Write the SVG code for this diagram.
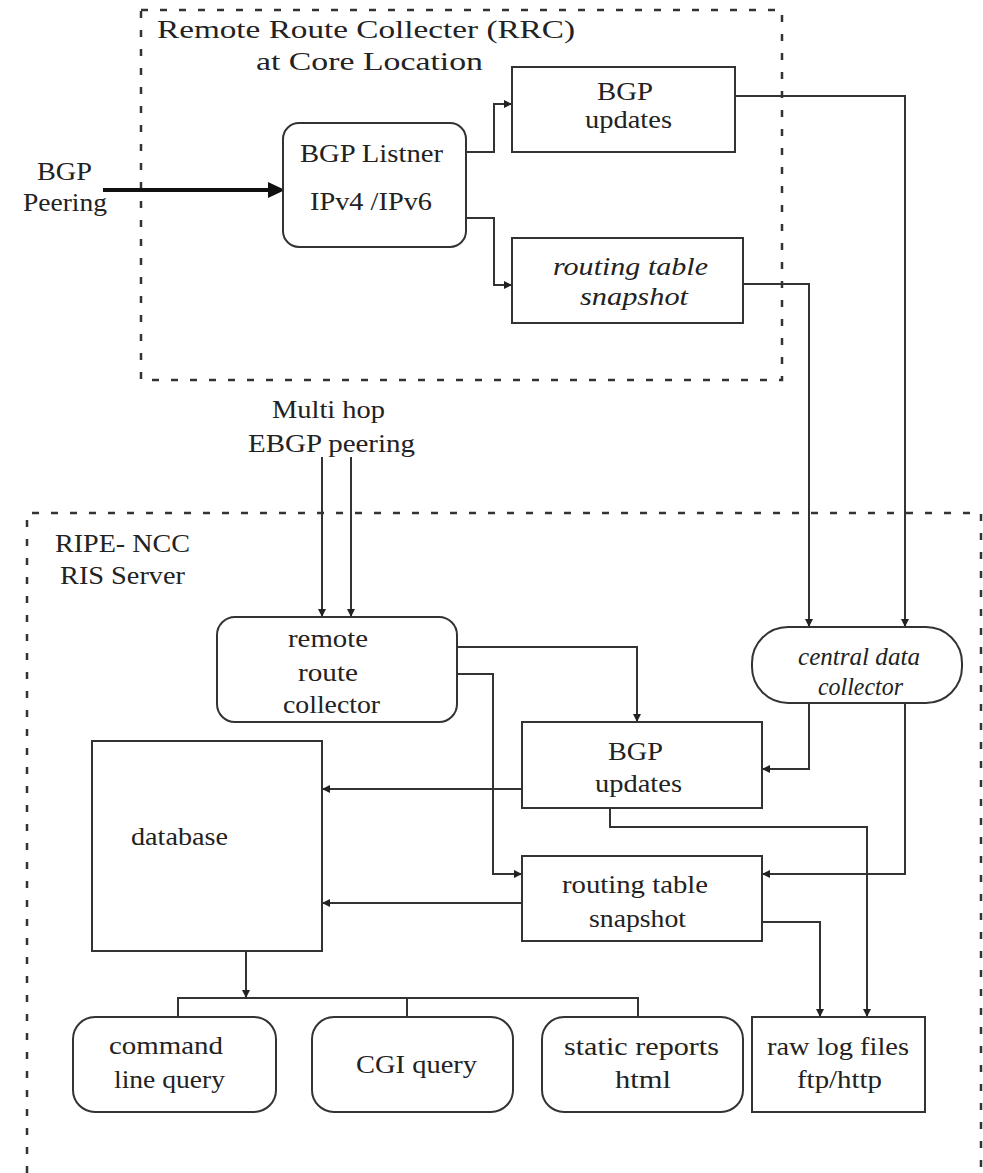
<svg xmlns="http://www.w3.org/2000/svg" width="983" height="1173" viewBox="0 0 983 1173">
<style>
.bg{fill:#fff}
.box{fill:#fff;stroke:#333;stroke-width:2}
.dash{fill:none;stroke:#333;stroke-width:2.5;stroke-dasharray:7 12}
.ln{fill:none;stroke:#333;stroke-width:2}
.ar{fill:none;stroke:#333;stroke-width:2;marker-end:url(#ah)}
text{font-family:"Liberation Serif","DejaVu Serif",serif;font-size:25px;fill:#222;text-anchor:middle}
.it{font-style:italic}
.big{font-size:26px}
</style>
<defs>
<marker id="ah" markerUnits="userSpaceOnUse" markerWidth="9" markerHeight="9" refX="8" refY="4" orient="auto">
<path d="M0,0 L8,4 L0,8 z" fill="#222"/>
</marker>
</defs>
<rect class="bg" x="0" y="0" width="983" height="1173"/>

<g id="rrc-container">
<rect class="dash" x="141" y="10" width="641" height="370"/>
<text class="big" x="366" y="38" textLength="418" lengthAdjust="spacingAndGlyphs">Remote Route Collecter (RRC)</text>
<text class="big" x="369.5" y="70" textLength="227" lengthAdjust="spacingAndGlyphs">at Core Location</text>
</g>

<g id="ris-container">
<path class="dash" d="M27,1173 V513 H981 V1173"/>
<text x="122.5" y="552" textLength="135" lengthAdjust="spacingAndGlyphs">RIPE- NCC</text>
<text x="122.5" y="584" textLength="125" lengthAdjust="spacingAndGlyphs">RIS Server</text>
</g>

<g id="bgp-peering-label">
<text x="64.5" y="180" textLength="55" lengthAdjust="spacingAndGlyphs">BGP</text>
<text x="65" y="211" textLength="84" lengthAdjust="spacingAndGlyphs">Peering</text>
</g>

<g id="multihop-label">
<text x="328.5" y="418" textLength="113" lengthAdjust="spacingAndGlyphs">Multi hop</text>
<text x="331.5" y="452" textLength="167" lengthAdjust="spacingAndGlyphs">EBGP peering</text>
</g>

<g id="connectors">
<line x1="103" y1="190" x2="270" y2="190" stroke="#111" stroke-width="4"/>
<polygon points="268,182 285,190 268,198" fill="#111"/>
<path class="ar" d="M466,152 H494 V104 H512"/>
<path class="ar" d="M466,218 H494 V285 H512"/>
<path class="ar" d="M735,96 H905 V627"/>
<path class="ar" d="M743,284 H809 V627"/>
<path class="ar" d="M322,457 V617"/>
<path class="ar" d="M351,457 V617"/>
<path class="ar" d="M457,647 H637 V722"/>
<path class="ar" d="M457,674 H493 V874 H522"/>
<path class="ar" d="M809,703 V769 H762"/>
<path class="ar" d="M905,703 V874 H762"/>
<path class="ar" d="M522,789 H322"/>
<path class="ar" d="M522,903 H322"/>
<path class="ar" d="M610,808 V827 H867 V1017"/>
<path class="ar" d="M762,922 H820 V1017"/>
<path class="ar" d="M246,951 V998"/>
<path class="ln" d="M178,1017 V998 H638 V1017 M407,998 V1017"/>
</g>

<g id="bgp-listner">
<rect class="box" x="283" y="123" width="183" height="124" rx="16"/>
<text x="371.5" y="162" textLength="143" lengthAdjust="spacingAndGlyphs">BGP Listner</text>
<text x="371" y="210" textLength="122" lengthAdjust="spacingAndGlyphs">IPv4 /IPv6</text>
</g>

<g id="rrc-bgp-updates">
<rect class="box" x="512" y="67" width="223" height="85"/>
<text x="625" y="100" textLength="56" lengthAdjust="spacingAndGlyphs">BGP</text>
<text x="628.5" y="128" textLength="87" lengthAdjust="spacingAndGlyphs">updates</text>
</g>

<g id="rrc-routing-table">
<rect class="box" x="512" y="238" width="231" height="85"/>
<text class="it" x="630.5" y="275" textLength="155" lengthAdjust="spacingAndGlyphs">routing table</text>
<text class="it" x="634" y="305" textLength="108" lengthAdjust="spacingAndGlyphs">snapshot</text>
</g>

<g id="remote-route-collector">
<rect class="box" x="217" y="617" width="240" height="105" rx="18"/>
<text x="328" y="647" textLength="80" lengthAdjust="spacingAndGlyphs">remote</text>
<text x="328" y="681" textLength="60" lengthAdjust="spacingAndGlyphs">route</text>
<text x="331.5" y="713" textLength="97" lengthAdjust="spacingAndGlyphs">collector</text>
</g>

<g id="central-data-collector">
<rect class="box" x="752" y="627" width="210" height="76" rx="36"/>
<text class="it" x="859" y="665" textLength="122" lengthAdjust="spacingAndGlyphs">central data</text>
<text class="it" x="860.5" y="695" textLength="85" lengthAdjust="spacingAndGlyphs">collector</text>
</g>

<g id="ris-bgp-updates">
<rect class="box" x="522" y="722" width="240" height="86"/>
<text class="big" x="635.5" y="760" textLength="55" lengthAdjust="spacingAndGlyphs">BGP</text>
<text x="638.5" y="792" textLength="87" lengthAdjust="spacingAndGlyphs">updates</text>
</g>

<g id="ris-routing-table">
<rect class="box" x="522" y="856" width="240" height="85"/>
<text x="635" y="893" textLength="146" lengthAdjust="spacingAndGlyphs">routing table</text>
<text x="637.5" y="927" textLength="97" lengthAdjust="spacingAndGlyphs">snapshot</text>
</g>

<g id="database">
<rect class="box" x="92" y="741" width="230" height="210"/>
<text x="179.5" y="845" textLength="97" lengthAdjust="spacingAndGlyphs">database</text>
</g>

<g id="command-line-query">
<rect class="box" x="73" y="1017" width="203" height="95" rx="22"/>
<text x="166" y="1054" textLength="114" lengthAdjust="spacingAndGlyphs">command</text>
<text x="169.5" y="1088" textLength="111" lengthAdjust="spacingAndGlyphs">line query</text>
</g>

<g id="cgi-query">
<rect class="box" x="312" y="1017" width="201" height="95" rx="22"/>
<text x="416.5" y="1073" textLength="121" lengthAdjust="spacingAndGlyphs">CGI query</text>
</g>

<g id="static-reports">
<rect class="box" x="542" y="1017" width="201" height="95" rx="22"/>
<text x="641.5" y="1055" textLength="155" lengthAdjust="spacingAndGlyphs">static reports</text>
<text x="643" y="1088" textLength="56" lengthAdjust="spacingAndGlyphs">html</text>
</g>

<g id="raw-log-files">
<rect class="box" x="752" y="1017" width="173" height="95"/>
<text x="838" y="1055" textLength="142" lengthAdjust="spacingAndGlyphs">raw log files</text>
<text x="839.5" y="1088" textLength="85" lengthAdjust="spacingAndGlyphs">ftp/http</text>
</g>
</svg>
